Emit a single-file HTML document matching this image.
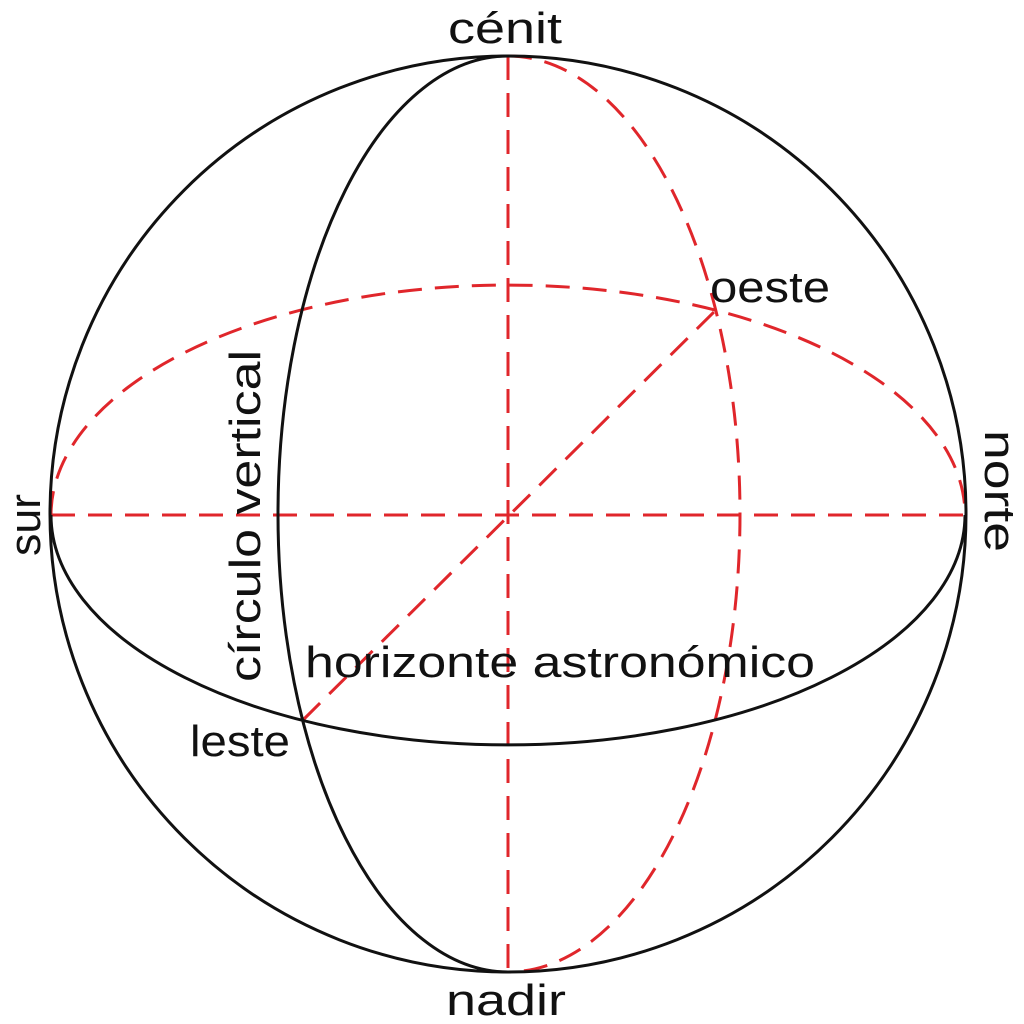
<!DOCTYPE html>
<html><head><meta charset="utf-8"><style>
html,body{margin:0;padding:0;background:#fff;}
svg{display:block;}
text{font-family:"Liberation Sans","DejaVu Sans",sans-serif;fill:#111;}
</style></head><body>
<svg width="1024" height="1024" viewBox="0 0 1024 1024" xmlns="http://www.w3.org/2000/svg">
<g fill="none" stroke="#e0262b" stroke-width="3" stroke-dasharray="24,13">
  <line x1="508" y1="56" x2="508" y2="972"/>
  <line x1="51" y1="515" x2="965" y2="515"/>
  <line x1="303" y1="720" x2="718" y2="308"/>
  <path d="M51,515 A457,230 0 0 1 965,515"/>
  <path d="M508,56 A232,458 0 0 1 508,972"/>
</g>
<g fill="none" stroke="#111" stroke-width="3">
  <circle cx="508" cy="514" r="458"/>
  <path d="M51,515 A457,230 0 0 0 965,515"/>
  <path d="M508,56 A230,458 0 0 0 508,972"/>
</g>
<g font-size="44">
<text x="448" y="43" textLength="114" lengthAdjust="spacingAndGlyphs">cénit</text>
<text x="446" y="1015" textLength="120" lengthAdjust="spacingAndGlyphs">nadir</text>
<text x="710" y="302" textLength="120" lengthAdjust="spacingAndGlyphs">oeste</text>
<text x="190" y="756" textLength="100" lengthAdjust="spacingAndGlyphs">leste</text>
<text x="305" y="677" textLength="510" lengthAdjust="spacingAndGlyphs">horizonte astronómico</text>
<text transform="translate(40,556) rotate(-90)" textLength="62" lengthAdjust="spacingAndGlyphs">sur</text>
<text transform="translate(985,430) rotate(90)" textLength="122" lengthAdjust="spacingAndGlyphs">norte</text>
<text transform="translate(260,682) rotate(-90)" textLength="332" lengthAdjust="spacingAndGlyphs">círculo vertical</text>
</g>
</svg>
</body></html>
